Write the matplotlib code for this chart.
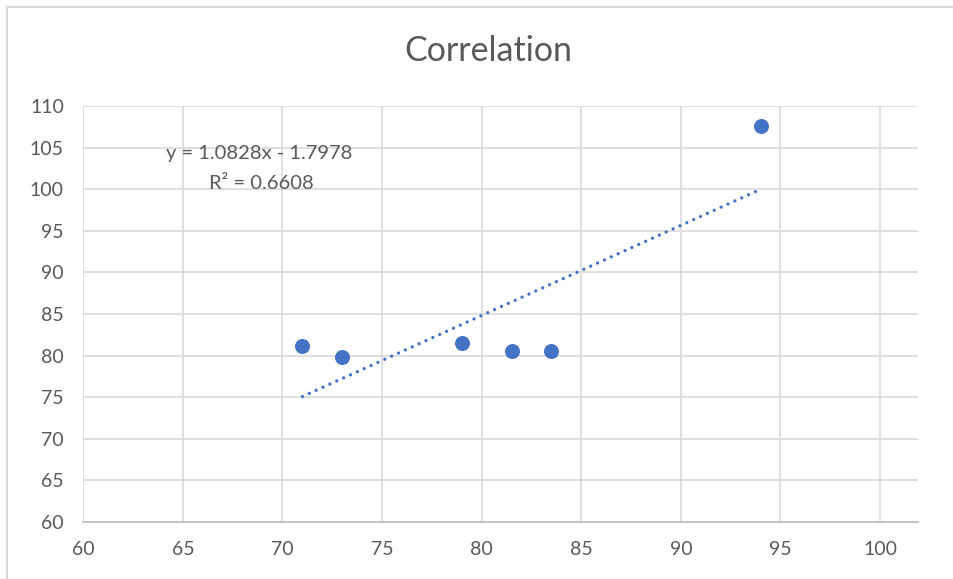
import matplotlib
matplotlib.use("Agg")
import matplotlib.pyplot as plt
from matplotlib.lines import Line2D
import numpy as np

# Observations
x_vals = [71.0, 73.0, 79.0, 81.5, 83.5, 94.0]
y_vals = [81.1, 79.8, 81.5, 80.6, 80.5, 107.6]

# Linear trendline coefficients
slope = 1.0828
intercept = -1.7978
r_squared = 0.6608

x_ticks = [60, 65, 70, 75, 80, 85, 90, 95, 100]
y_ticks = [60, 65, 70, 75, 80, 85, 90, 95, 100, 105, 110]

BLUE = "#4472C4"
GRID = "#D9D9D9"
TEXT = "#595959"
FONT = "Lato"

W, H = 954, 579
fig = plt.figure(figsize=(W / 100, H / 100), dpi=100)
fig.patch.set_facecolor("white")

ax = fig.add_axes([83.3 / W, 1 - 522 / H, (918.5 - 83.3) / W, (522 - 106) / H])
ax.set_xlim(60, 101.93)
ax.set_ylim(60, 110)

ax.set_xticks(x_ticks)
ax.set_yticks(y_ticks)
ax.tick_params(length=0, labelsize=14, labelcolor=TEXT, pad=14)
for lab in ax.get_xticklabels() + ax.get_yticklabels():
    lab.set_fontfamily(FONT)

ax.grid(True, color=GRID, linewidth=1.2)
ax.set_axisbelow(True)
for side in ("top", "right", "left"):
    ax.spines[side].set_visible(False)
ax.spines["bottom"].set_color("#BFBFBF")
ax.spines["bottom"].set_linewidth(1.3)

# Trendline across the observed x range
tx = np.array([min(x_vals), max(x_vals)])
ty = slope * tx + intercept
ax.plot(tx, ty, color=BLUE, linewidth=2.4, linestyle=(0, (0.01, 2.25)),
        dash_capstyle="round", zorder=3)

# Data points
ax.plot(x_vals, y_vals, linestyle="none", marker="o", markersize=10.8,
        markerfacecolor=BLUE, markeredgewidth=0, zorder=4)

# Trendline equation label
sign = "-" if intercept < 0 else "+"
ax.text(68.85, 104.25, f"y = {slope:.4f}x {sign} {abs(intercept):.4f}",
        ha="center", va="center", fontsize=14.5, color=TEXT, family=FONT)
ax.text(68.95, 100.7, f"R² = {r_squared:.4f}",
        ha="center", va="center", fontsize=14.5, color=TEXT, family=FONT)

# Title
fig.text(488 / W, 1 - 51 / H, "Correlation", ha="center", va="center",
         fontsize=24.5, color=TEXT, family=FONT)

# Chart frame (left and top edges)
fig.add_artist(Line2D([7 / W, 7 / W], [0, 1 - 7 / H], transform=fig.transFigure,
                      color=GRID, linewidth=1.5))
fig.add_artist(Line2D([7 / W, 1], [1 - 7 / H, 1 - 7 / H], transform=fig.transFigure,
                      color=GRID, linewidth=1.5))

fig.savefig("out.png", dpi=100)
